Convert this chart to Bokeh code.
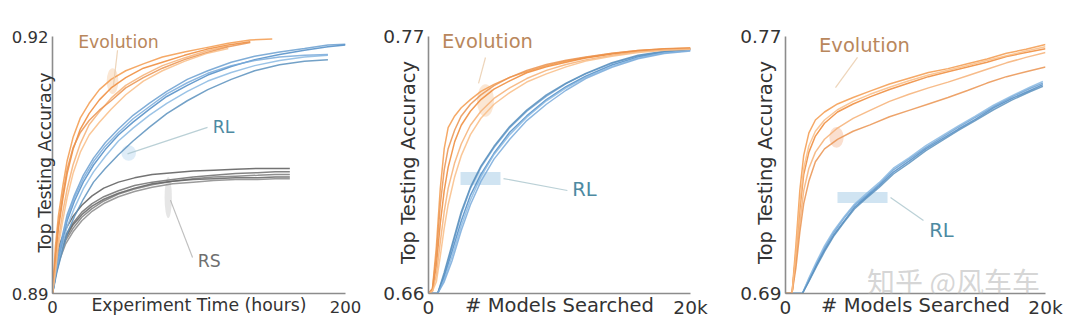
from bokeh.plotting import figure
from bokeh.models import Range1d, Label, FixedTicker
from bokeh.layouts import row
from bokeh.embed import file_html
from bokeh.resources import INLINE

FONT = "DejaVu Sans"

# ---------------- Panel 1: accuracy vs experiment time (hours) ----------------
P1_EVO_X = [0, 2, 4, 7, 10, 14, 19, 25, 32, 40, 50, 62, 75, 90, 105, 120, 135, 150]
P1_EVO = [
    [0.8900, 0.8955, 0.8990, 0.9025, 0.9055, 0.9082, 0.9105, 0.9122, 0.9138, 0.9150, 0.9160, 0.9168, 0.9176, 0.9182, 0.9187, 0.9192, 0.9196, 0.9197],
    [0.8900, 0.8940, 0.8975, 0.9010, 0.9040, 0.9068, 0.9092, 0.9110, 0.9126, 0.9140, 0.9152, 0.9163, 0.9170, 0.9178, 0.9185, 0.9190, 0.9194],
    [0.8900, 0.8930, 0.8962, 0.8995, 0.9022, 0.9050, 0.9075, 0.9097, 0.9112, 0.9128, 0.9143, 0.9155, 0.9166, 0.9175, 0.9183, 0.9189],
    [0.8900, 0.8945, 0.8980, 0.9015, 0.9045, 0.9070, 0.9088, 0.9102, 0.9114, 0.9125, 0.9140, 0.9152, 0.9163, 0.9173, 0.9181, 0.9188, 0.9193],
    [0.8900, 0.8925, 0.8955, 0.8985, 0.9012, 0.9040, 0.9065, 0.9085, 0.9100, 0.9115, 0.9132, 0.9148, 0.9160, 0.9171, 0.9180, 0.9186],
]
P1_RL_X = [0, 3, 6, 10, 15, 21, 28, 36, 45, 55, 66, 78, 92, 106, 122, 138, 155, 172, 188, 200]
P1_RL = [
    [0.8900, 0.8935, 0.8962, 0.8992, 0.9015, 0.9038, 0.9058, 0.9076, 0.9092, 0.9108, 0.9122, 0.9136, 0.9150, 0.9160, 0.9170, 0.9177, 0.9182, 0.9186, 0.9190, 0.9191],
    [0.8900, 0.8930, 0.8955, 0.8985, 0.9008, 0.9030, 0.9050, 0.9068, 0.9085, 0.9100, 0.9115, 0.9130, 0.9143, 0.9155, 0.9165, 0.9173, 0.9179, 0.9184, 0.9188, 0.9190],
    [0.8900, 0.8928, 0.8950, 0.8978, 0.9000, 0.9022, 0.9042, 0.9060, 0.9078, 0.9093, 0.9108, 0.9122, 0.9136, 0.9148, 0.9158, 0.9166, 0.9172, 0.9176, 0.9178],
    [0.8900, 0.8925, 0.8945, 0.8970, 0.8990, 0.9010, 0.9030, 0.9046, 0.9062, 0.9078, 0.9094, 0.9110, 0.9125, 0.9138, 0.9150, 0.9160, 0.9167, 0.9171, 0.9173],
    [0.8900, 0.8932, 0.8958, 0.8988, 0.9012, 0.9034, 0.9054, 0.9072, 0.9088, 0.9104, 0.9118, 0.9133, 0.9146, 0.9157, 0.9166, 0.9172, 0.9176, 0.9178, 0.9179],
]
P1_RS_X = [0, 2, 5, 9, 14, 20, 27, 35, 45, 56, 68, 82, 96, 110, 125, 140, 152, 162]
P1_RS = [
    [0.8900, 0.8935, 0.8958, 0.8975, 0.8990, 0.9003, 0.9014, 0.9023, 0.9030, 0.9035, 0.9039, 0.9041, 0.9043, 0.9044, 0.9045, 0.9046, 0.9046, 0.9046],
    [0.8900, 0.8930, 0.8950, 0.8968, 0.8982, 0.8995, 0.9005, 0.9013, 0.9020, 0.9026, 0.9030, 0.9033, 0.9036, 0.9038, 0.9040, 0.9041, 0.9042, 0.9042],
    [0.8900, 0.8925, 0.8945, 0.8962, 0.8976, 0.8989, 0.8999, 0.9008, 0.9016, 0.9022, 0.9027, 0.9031, 0.9034, 0.9036, 0.9037, 0.9038, 0.9039, 0.9039],
    [0.8900, 0.8928, 0.8947, 0.8965, 0.8980, 0.8992, 0.9002, 0.9010, 0.9017, 0.9023, 0.9028, 0.9031, 0.9033, 0.9034, 0.9035, 0.9035, 0.9036, 0.9036],
    [0.8900, 0.8920, 0.8940, 0.8958, 0.8972, 0.8985, 0.8996, 0.9005, 0.9013, 0.9019, 0.9024, 0.9028, 0.9030, 0.9032, 0.9033, 0.9033, 0.9034, 0.9034],
]

# ---------------- Panel 2: accuracy vs # models searched ----------------
P2_EVO_X = [0, 300, 600, 900, 1200, 1500, 2000, 2500, 3200, 4000, 5000, 6200, 7500, 9000, 10500, 12000, 14000, 16000, 18000, 20000]
P2_EVO = [
    [0.660, 0.662, 0.680, 0.705, 0.722, 0.731, 0.736, 0.7395, 0.743, 0.7465, 0.7495, 0.7525, 0.755, 0.7575, 0.7595, 0.761, 0.7627, 0.764, 0.7648, 0.7652],
    [0.660, 0.661, 0.672, 0.690, 0.704, 0.714, 0.725, 0.732, 0.738, 0.743, 0.7475, 0.751, 0.7545, 0.757, 0.759, 0.7608, 0.7625, 0.7638, 0.7645, 0.7648],
    [0.660, 0.661, 0.668, 0.682, 0.695, 0.705, 0.716, 0.724, 0.732, 0.738, 0.7435, 0.748, 0.752, 0.7555, 0.758, 0.760, 0.762, 0.7635, 0.7643, 0.7647],
    [0.660, 0.662, 0.676, 0.698, 0.713, 0.722, 0.730, 0.736, 0.741, 0.745, 0.749, 0.7525, 0.7555, 0.758, 0.7598, 0.7612, 0.7628, 0.764, 0.7646, 0.7650],
    [0.660, 0.661, 0.665, 0.676, 0.688, 0.698, 0.710, 0.719, 0.728, 0.735, 0.741, 0.746, 0.7505, 0.754, 0.757, 0.7595, 0.7615, 0.7632, 0.7641, 0.7645],
]
P2_RL_X = [0, 700, 1200, 1800, 2500, 3200, 4000, 5000, 6200, 7500, 9000, 10500, 12000, 14000, 16000, 18000, 20000]
P2_RL = [
    [0.660, 0.660, 0.668, 0.680, 0.694, 0.705, 0.714, 0.7225, 0.731, 0.738, 0.7445, 0.7498, 0.754, 0.7585, 0.7617, 0.7635, 0.7645],
    [0.660, 0.660, 0.667, 0.678, 0.691, 0.702, 0.711, 0.720, 0.729, 0.736, 0.743, 0.7485, 0.753, 0.7578, 0.7612, 0.7632, 0.7642],
    [0.660, 0.660, 0.666, 0.676, 0.689, 0.700, 0.710, 0.7195, 0.728, 0.7355, 0.7425, 0.748, 0.7525, 0.7572, 0.7608, 0.763, 0.7640],
    [0.660, 0.660, 0.669, 0.681, 0.695, 0.7055, 0.7145, 0.723, 0.7315, 0.7385, 0.745, 0.750, 0.7542, 0.7588, 0.762, 0.7637, 0.7647],
    [0.660, 0.660, 0.665, 0.674, 0.687, 0.698, 0.708, 0.7175, 0.726, 0.734, 0.741, 0.747, 0.752, 0.7568, 0.7605, 0.7627, 0.7638],
]

# ---------------- Panel 3: accuracy vs # models searched ----------------
P3_EVO_X = [0, 500, 800, 1100, 1400, 1800, 2300, 3000, 4000, 5200, 6500, 8000, 9500, 11000, 12500, 14000, 15500, 17000, 18500, 20000]
P3_EVO = [
    [0.690, 0.690, 0.705, 0.722, 0.733, 0.740, 0.744, 0.7465, 0.749, 0.751, 0.753, 0.7552, 0.757, 0.7588, 0.760, 0.7615, 0.763, 0.7648, 0.766, 0.7675],
    [0.690, 0.690, 0.702, 0.716, 0.727, 0.734, 0.739, 0.743, 0.7465, 0.749, 0.7512, 0.7535, 0.7555, 0.7575, 0.759, 0.7605, 0.762, 0.7638, 0.765, 0.7662],
    [0.690, 0.690, 0.700, 0.712, 0.722, 0.729, 0.734, 0.738, 0.7415, 0.7445, 0.747, 0.7498, 0.752, 0.754, 0.7558, 0.7578, 0.7598, 0.7618, 0.7635, 0.7650],
    [0.690, 0.690, 0.698, 0.709, 0.718, 0.725, 0.731, 0.735, 0.738, 0.7405, 0.7425, 0.745, 0.747, 0.749, 0.751, 0.7532, 0.7555, 0.7575, 0.759, 0.7605],
    [0.690, 0.690, 0.703, 0.718, 0.729, 0.736, 0.7405, 0.744, 0.7472, 0.7498, 0.752, 0.7542, 0.7562, 0.758, 0.7595, 0.761, 0.7625, 0.764, 0.7655, 0.7668],
]
P3_RL_X = [0, 1300, 1800, 2400, 3000, 3700, 4500, 5300, 6200, 7200, 8300, 9500, 10800, 12000, 13300, 14600, 16000, 17400, 18800, 19800]
P3_RL = [
    [0.690, 0.690, 0.6945, 0.6995, 0.7042, 0.709, 0.7135, 0.7175, 0.7205, 0.724, 0.7285, 0.7318, 0.7355, 0.7385, 0.7418, 0.7448, 0.7482, 0.7512, 0.7538, 0.7555],
    [0.690, 0.690, 0.694, 0.699, 0.7035, 0.7082, 0.7125, 0.7168, 0.7200, 0.7235, 0.7278, 0.7312, 0.735, 0.738, 0.7412, 0.7442, 0.7478, 0.7507, 0.7532, 0.7550],
    [0.690, 0.690, 0.6948, 0.700, 0.7048, 0.7095, 0.7138, 0.7178, 0.721, 0.7245, 0.729, 0.7322, 0.736, 0.739, 0.7422, 0.7452, 0.7486, 0.7515, 0.7542, 0.7560],
    [0.690, 0.690, 0.6938, 0.6985, 0.703, 0.7078, 0.7122, 0.7163, 0.7196, 0.723, 0.7272, 0.7306, 0.7345, 0.7375, 0.7408, 0.7438, 0.7472, 0.7502, 0.7528, 0.7545],
]

# axis texts
X_TITLES = ["Experiment Time (hours)", "# Models Searched", "# Models Searched"]
Y_TITLE = "Top Testing Accuracy"
X_TICK_LABELS = [{0: "0", 200: "200"}, {0: "0", 20000: "20k"}, {0: "0", 20000: "20k"}]

ORANGES = ["#f39a4c", "#ef8836", "#f6b075", "#ea9350", "#f9bd86"]
BLUES = ["#6a9fd0", "#4f8cc6", "#8ab8e2", "#5b90bd", "#79aadb"]
GRAYS = ["#5a5a5a", "#6e6e6e", "#7c7c7c", "#636363", "#8a8a8a"]
EVO_C, RL_C, RS_C = "#b9875c", "#4d8aa2", "#6f6f6f"

PAD_PX = 5       # headroom above the top tick so annotation text is not clipped
FRAME_H = 257    # pixel height between the bottom and top ticks


def make_panel(width, bl, br, xr, yr, xticks, yticks, xlabels, fsize, tsize, xtitle,
               xtick_off, xs_off, ys_off):
    y0, y1 = yr
    y_top = y1 + (y1 - y0) * PAD_PX / FRAME_H
    p = figure(width=width, height=328, x_range=Range1d(*xr), y_range=Range1d(y0, y_top),
               output_backend="svg", toolbar_location=None,
               min_border_left=bl, min_border_right=br, min_border_top=36 - PAD_PX, min_border_bottom=35)
    p.outline_line_color = None
    p.xgrid.visible = False
    p.ygrid.visible = False
    p.background_fill_color = "white"
    p.border_fill_color = "white"
    for ax in (p.xaxis[0], p.yaxis[0]):
        ax.axis_line_color = "#8c8c8c"
        ax.axis_line_width = 1.6
        ax.major_tick_line_color = None
        ax.minor_tick_line_color = None
        ax.major_tick_out = 0
        ax.major_tick_in = 0
        ax.major_label_text_font = FONT
        ax.major_label_text_font_size = fsize
        ax.major_label_text_color = "#333333"
        ax.axis_label_text_font = FONT
        ax.axis_label_text_font_size = tsize
        ax.axis_label_text_font_style = "normal"
        ax.axis_label_text_color = "#333333"
    p.yaxis.bounds = (y0, y1)
    p.xaxis.ticker = FixedTicker(ticks=xticks)
    p.yaxis.ticker = FixedTicker(ticks=yticks)
    p.xaxis.major_label_overrides = xlabels
    p.xaxis.major_label_standoff = xtick_off
    p.yaxis.major_label_standoff = 4
    p.xaxis.axis_label = xtitle
    p.yaxis.axis_label = Y_TITLE
    p.xaxis.axis_label_standoff = xs_off
    p.yaxis.axis_label_standoff = ys_off
    return p


def draw_group(p, xs, ys_list, colors, width=1.5, alpha=0.85):
    for ys, c in zip(ys_list, colors):
        p.line(xs[:len(ys)], ys, line_color=c, line_width=width, line_alpha=alpha)


def add_text(p, x, y, text, color, size, font=FONT, alpha=1.0):
    p.add_layout(Label(x=x, y=y, text=text, text_color=color, text_font=font,
                       text_font_size=size, text_align="center", text_baseline="middle",
                       text_alpha=alpha))


# ---------------- build panel 1 ----------------
F1, F2 = "16.5px", "18.5px"
T1, T2 = "17.3px", "19.5px"
p1 = make_panel(370, 52, 25, (0, 200), (0.89, 0.92), [0, 200], [0.89, 0.92], X_TICK_LABELS[0], F1, T1,
                X_TITLES[0], 7, -21, -46)
p1.ellipse(x=[41, 52, 79], y=[0.9148, 0.9064, 0.9012], width=[8, 10, 5], height=[0.0030, 0.0018, 0.0048],
           fill_color=["#f6c9a0", "#b9d8f0", "#c8c8c8"], fill_alpha=0.45, line_color=None)
draw_group(p1, P1_RS_X, P1_RS, GRAYS)
draw_group(p1, P1_RL_X, P1_RL, BLUES)
draw_group(p1, P1_EVO_X, P1_EVO, ORANGES)
p1.segment(x0=[44.4, 105.8, 95.6], y0=[0.9184, 0.9094, 0.8942], x1=[41.6, 51.2, 80.5], y1=[0.9143, 0.9063, 0.9009],
           line_color=["#e8c9a8", "#a9c4cc", "#b0b0b0"], line_width=1.2, line_alpha=0.8)
add_text(p1, 45, 0.9194, "Evolution", EVO_C, T1)
add_text(p1, 116.7, 0.9094, "RL", RL_C, T1)
add_text(p1, 107, 0.89385, "RS", RS_C, T1)

# ---------------- build panel 2 ----------------
p2 = make_panel(350, 58, 30, (0, 20000), (0.66, 0.77), [0, 20000], [0.66, 0.77], X_TICK_LABELS[1], F2, T2,
                X_TITLES[1], 3, -27, -40)
p2.ellipse(x=[4350], y=[0.7426], width=[1300], height=[0.014], fill_color="#f6c9a0", fill_alpha=0.45, line_color=None)
p2.rect(x=[3970], y=[0.7092], width=[3050], height=[0.0056], fill_color="#a9cde8", fill_alpha=0.55, line_color=None)
draw_group(p2, P2_RL_X, P2_RL, BLUES)
draw_group(p2, P2_EVO_X, P2_EVO, ORANGES)
p2.segment(x0=[4350, 10600], y0=[0.7610, 0.7041], x1=[3820, 5725], y1=[0.7499, 0.7092],
           line_color=["#e8c9a8", "#a9c4cc"], line_width=1.2, line_alpha=0.8)
add_text(p2, 4504, 0.7679, "Evolution", EVO_C, T2)
add_text(p2, 11908, 0.7045, "RL", RL_C, T2)

# ---------------- build panel 3 ----------------
p3 = make_panel(360, 65, 35, (0, 20000), (0.69, 0.77), [0, 20000], [0.69, 0.77], X_TICK_LABELS[2], F2, T2,
                X_TITLES[2], 3, -27, -40)
p3.ellipse(x=[3923], y=[0.7386], width=[1100], height=[0.0065], fill_color="#f6c0a0", fill_alpha=0.5, line_color=None)
p3.rect(x=[5923], y=[0.7199], width=[3850], height=[0.0034], fill_color="#a9cde8", fill_alpha=0.55, line_color=None)
draw_group(p3, P3_RL_X, P3_RL, BLUES)
draw_group(p3, P3_EVO_X, P3_EVO, ORANGES)
p3.segment(x0=[5538, 10615], y0=[0.7635, 0.7127], x1=[3846, 8077], y1=[0.7541, 0.7199],
           line_color=["#e8c9a8", "#a9c4cc"], line_width=1.2, line_alpha=0.8)
add_text(p3, 6077, 0.7672, "Evolution", EVO_C, T2)
add_text(p3, 12000, 0.7096, "RL", RL_C, T2)
add_text(p3, 12923, 0.694, "知乎 @风车车", "#bbbbbb", "28px", font="Noto Sans CJK SC", alpha=0.6)

layout = row(p1, p2, p3)
open("out.html", "w").write(file_html(layout, INLINE))
